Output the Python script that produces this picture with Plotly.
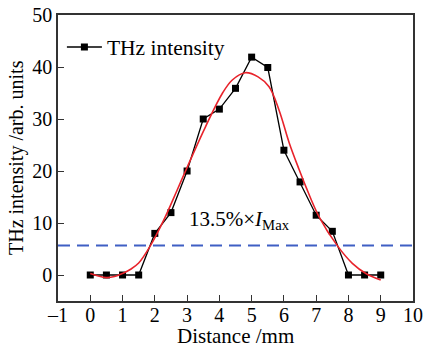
import plotly.graph_objects as go

# Measured data
distance = [0, 0.5, 1, 1.5, 2, 2.5, 3, 3.5, 4, 4.5, 5, 5.5, 6, 6.5, 7, 7.5, 8, 8.5, 9]
intensity = [0, 0, 0, 0, 8.0, 12.0, 20.0, 30.0, 31.9, 35.9, 41.9, 39.9, 24.0, 17.9, 11.5, 8.4, 0, 0, 0]

# Fitted curve
fit_x = [0, 0.25, 0.5, 0.75, 1.0, 1.25, 1.5, 1.86, 2.28, 2.69, 3.1, 3.57, 4.09, 4.4, 4.8,
         5.2, 5.54, 5.85, 6.16, 6.47, 6.68, 7.09, 7.66, 8.12, 8.54, 9.0]
fit_y = [0.3, -0.2, -0.5, -0.3, 0.3, 1.1, 2.3, 5.6, 10.6, 16.3, 22.1, 28.5, 34.9, 37.5, 38.9,
         38.1, 36.2, 31.7, 25.5, 20.3, 17.0, 11.2, 5.6, 2.25, 0.3, -0.96]

threshold = 5.65
x_range = [-1, 10]
y_range = [-5, 50]
x_ticks = list(range(-1, 11))
x_labels = ["–1"] + [str(v) for v in x_ticks[1:]]
y_ticks = [0, 10, 20, 30, 40, 50]

FONT = "Liberation Serif"

fig = go.Figure()
fig.add_trace(go.Scatter(x=x_range, y=[threshold, threshold], mode="lines",
                         line=dict(color="#3f5fc4", width=2, dash="12px,7px"),
                         showlegend=False, hoverinfo="skip"))
fig.add_trace(go.Scatter(x=distance, y=intensity, mode="lines+markers", name="THz intensity",
                         line=dict(color="black", width=1.3),
                         marker=dict(symbol="square", size=7, color="black")))
fig.add_trace(go.Scatter(x=fit_x, y=fit_y, mode="lines", line=dict(color="#e8232b", width=1.6, shape="spline"),
                         showlegend=False))

fig.add_annotation(x=2.99, y=10.6, xref="x", yref="y", xanchor="left", yanchor="middle",
                   text="13.5%×<i>I</i><sub>Max</sub>", showarrow=False,
                   font=dict(family=FONT, size=21, color="black"))

# axis titles
fig.add_annotation(x=0.4986, y=-0.122, xref="paper", yref="paper", xanchor="center", yanchor="middle",
                   text="Distance /mm", showarrow=False,
                   font=dict(family=FONT, size=21, color="black"))
fig.add_annotation(x=-0.1155, y=0.5035, xref="paper", yref="paper", xanchor="center", yanchor="middle",
                   text="THz intensity /arb. units", textangle=-90, showarrow=False,
                   font=dict(family=FONT, size=20, color="black"))

axis_common = dict(showline=True, linecolor="#333333", linewidth=1.5, mirror=True,
                   ticks="inside", ticklen=6, tickwidth=1.2, tickcolor="#333333",
                   showgrid=False, zeroline=False, automargin=False,
                   tickfont=dict(family=FONT, size=20, color="black"))

fig.update_layout(
    width=425, height=348,
    margin=dict(l=58, r=12, t=15, b=47),
    paper_bgcolor="white", plot_bgcolor="white",
    xaxis=dict(range=x_range, tickvals=x_ticks, ticktext=x_labels, ticklabelstandoff=-5, **axis_common),
    yaxis=dict(range=y_range, tickvals=y_ticks, **axis_common),
    legend=dict(x=0.011, y=0.888, xanchor="left", yanchor="middle", bgcolor="rgba(0,0,0,0)",
                itemwidth=35, font=dict(family=FONT, size=21.5, color="black")),
    showlegend=True,
)

fig.write_html("out.html", config={"displayModeBar": False},
               post_script="document.body.style.margin='0';document.body.style.padding='0';"
                           "document.body.style.overflow='hidden';")
